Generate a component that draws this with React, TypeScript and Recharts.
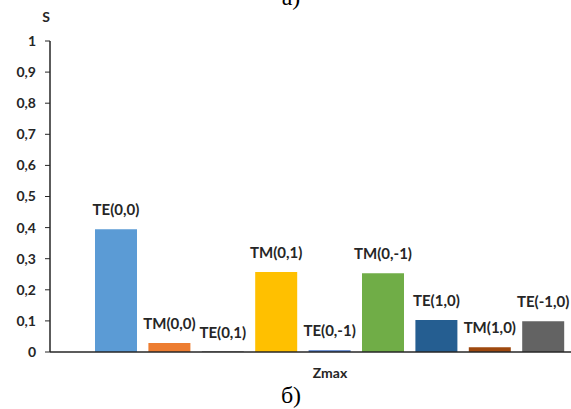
import { BarChart, Bar, XAxis, YAxis } from "recharts";

const category = "Zmax";
const seriesNames = ["TE(0,0)", "TM(0,0)", "TE(0,1)", "TM(0,1)", "TE(0,-1)", "TM(0,-1)", "TE(1,0)", "TM(1,0)", "TE(-1,0)"];
const seriesValues = [0.395, 0.029, 0, 0.257, 0.006, 0.253, 0.103, 0.015, 0.099];
const seriesColors = ["#5B9BD5", "#ED7D31", "#A5A5A5", "#FFC000", "#4472C4", "#70AD47", "#255E91", "#9E480E", "#636363"];
const yTicks = [0, 0.1, 0.2, 0.3, 0.4, 0.5, 0.6, 0.7, 0.8, 0.9, 1];

const row: Record<string, string | number> = { name: category };
seriesNames.forEach((n, i) => {
  row[`s${i}`] = seriesValues[i];
});
const data = [row];

const font = "Lato, 'Open Sans', sans-serif";
const ink = "#262626";

// label drawn above the bar top
const makeLabel = (text: string) => (props: any) => {
  const { x, y, width, value } = props;
  const top = value === 0 ? Number(y) + 1 : Number(y);
  return (
    <text
      x={Number(x) + Number(width) / 2}
      y={top - 14}
      textAnchor="middle"
      fontFamily={font}
      fontWeight={700}
      fontSize={15}
      fill={ink}
    >
      {text}
    </text>
  );
};

export default function App() {
  return (
    <div style={{ position: "absolute", left: 0, top: 0, width: 571, height: 409, overflow: "hidden", background: "#fff" }}>
      <BarChart
        width={620}
        height={409}
        data={data}
        margin={{ top: 41, right: 10, left: 0, bottom: 27 }}
        barSize={42}
        barGap={11.4}
      >
        {seriesNames.map((n, i) => (
          <Bar
            key={n}
            dataKey={`s${i}`}
            name={n}
            fill={seriesColors[i]}
            minPointSize={1}
            isAnimationActive={false}
            label={makeLabel(n)}
          />
        ))}
        <XAxis
          dataKey="name"
          axisLine={{ stroke: ink, strokeWidth: 1.5 }}
          tickLine={false}
          height={30}
          tick={{ fontFamily: font, fontWeight: 700, fontSize: 14, fill: ink }}
          tickMargin={10}
        />
        <YAxis
          domain={[0, 1]}
          ticks={yTicks}
          width={50}
          axisLine={{ stroke: ink, strokeWidth: 1.5 }}
          tickLine={{ stroke: ink }}
          tickSize={5}
          tickMargin={9}
          interval={0}
          tickFormatter={(v: number) => String(Math.round(v * 10) / 10).replace(".", ",")}
          tick={{ fontFamily: font, fontWeight: 700, fontSize: 14, fill: ink }}
        />
        <text x={46} y={22} textAnchor="middle" fontFamily={font} fontWeight={700} fontSize={14} fill={ink}>
          S
        </text>
        <text x={291} y={5} textAnchor="middle" fontFamily="'Liberation Serif', serif" fontSize={24} fill="#000">
          а)
        </text>
        <text x={291} y={403} textAnchor="middle" fontFamily="'Liberation Serif', serif" fontSize={24} fill="#000">
          б)
        </text>
      </BarChart>
    </div>
  );
}
